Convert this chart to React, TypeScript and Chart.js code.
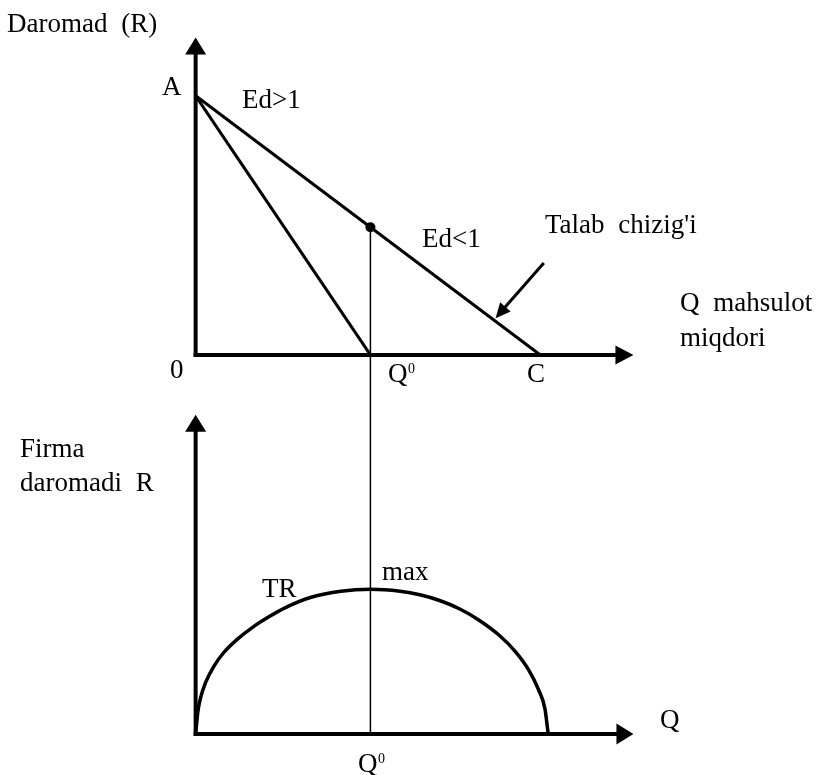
import React, { useEffect, useRef } from "react";
import { Chart, registerables } from "chart.js";

Chart.register(...registerables);

// ---- Data (economic units) ----
// Demand line (Talab chizig'i): from A (Q=0) to C (P=0)
const DEMAND_Q = [0, 10];
const DEMAND_P = [10, 0];
// Marginal revenue line: from A to Q0
const MR_Q = [0, 5.07];
const MR_P = [10, 0];
// Point on the demand line at Q0
const Q0 = 5.07;
const P_AT_Q0 = 4.93;
// Total revenue curve (TR)
const TR_Q = [0, 0.066, 0.143, 0.287, 0.524, 0.811, 1.195, 1.67, 2.1, 2.636, 3.352, 4.212, 5.07, 5.931, 6.504, 7.077, 7.65, 8.223, 8.797, 9.275, 9.656, 9.943, 10.135, 10.209, 10.229];
const TR_VALUES = [0, 3.87, 6.23, 8.86, 11.64, 14.04, 16.3, 18.52, 20.17, 21.93, 23.63, 24.66, 25.0, 24.66, 24.06, 23.07, 21.64, 19.66, 17.1, 14.25, 11.13, 7.71, 4.3, 0.89, 0];
// Axis extents (where the arrows end)
const Q_AXIS_END = 12.7;
const P_AXIS_END = 12.25;
const TR_AXIS_END = 55.2;
// "Talab chizig'i" pointer arrow (from, to) in top-panel units
const POINTER_FROM = [10.1, 3.55];
const POINTER_TO = [8.7, 1.42];

// ---- Texts ----
const TXT_TOP_Y = "Daromad (R)";
const TXT_A = "A";
const TXT_ED_GT = "Ed>1";
const TXT_ED_LT = "Ed<1";
const TXT_DEMAND = "Talab chizig'i";
const TXT_QX_1 = "Q mahsulot";
const TXT_QX_2 = "miqdori";
const TXT_ORIGIN = "0";
const TXT_C = "C";
const TXT_BOT_Y_1 = "Firma";
const TXT_BOT_Y_2 = "daromadi R";
const TXT_TR = "TR";
const TXT_MAX = "max";
const TXT_Q = "Q";

const FONT = '"Liberation Serif", "Times New Roman", serif';

function drawArrow(ctx: CanvasRenderingContext2D, x0: number, y0: number, x1: number, y1: number, headLen: number, headHalf: number, lw: number) {
  const ang = Math.atan2(y1 - y0, x1 - x0);
  const c = Math.cos(ang), s = Math.sin(ang);
  const bx = x1 - headLen * c, by = y1 - headLen * s;
  ctx.save();
  ctx.strokeStyle = "#000";
  ctx.fillStyle = "#000";
  ctx.lineWidth = lw;
  ctx.lineCap = "butt";
  ctx.beginPath();
  ctx.moveTo(x0, y0);
  ctx.lineTo(bx + c, by + s);
  ctx.stroke();
  ctx.beginPath();
  ctx.moveTo(x1, y1);
  ctx.lineTo(bx - headHalf * s, by + headHalf * c);
  ctx.lineTo(bx + headHalf * s, by - headHalf * c);
  ctx.closePath();
  ctx.fill();
  ctx.restore();
}

const diagramPlugin = {
  id: "diagram",
  afterDatasetsDraw(chart: any) {
    const ctx: any = chart.ctx;
    const x = chart.scales.x;
    const yT = chart.scales.yTop;
    const yB = chart.scales.yBot;
    const x0 = x.getPixelForValue(0);

    // top panel axes
    const yT0 = yT.getPixelForValue(0);
    drawArrow(ctx, x0, yT0 + 2, x0, yT.getPixelForValue(P_AXIS_END), 17, 10.5, 4);
    drawArrow(ctx, x0 - 2, yT0, x.getPixelForValue(Q_AXIS_END), yT0, 18, 9.5, 4);
    // bottom panel axes
    const yB0 = yB.getPixelForValue(0);
    drawArrow(ctx, x0, yB0 + 2, x0, yB.getPixelForValue(TR_AXIS_END), 17, 10.5, 4);
    drawArrow(ctx, x0 - 2, yB0, x.getPixelForValue(Q_AXIS_END), yB0, 17, 10.5, 4);

    // vertical Q0 line through both panels
    ctx.save();
    ctx.strokeStyle = "#000";
    ctx.lineWidth = 1.5;
    ctx.beginPath();
    const xq = x.getPixelForValue(Q0);
    ctx.moveTo(xq, yT.getPixelForValue(P_AT_Q0));
    ctx.lineTo(xq, yB0);
    ctx.stroke();
    ctx.restore();

    // pointer arrow to the demand line
    drawArrow(
      ctx,
      x.getPixelForValue(POINTER_FROM[0]), yT.getPixelForValue(POINTER_FROM[1]),
      x.getPixelForValue(POINTER_TO[0]), yT.getPixelForValue(POINTER_TO[1]),
      15, 7, 3
    );

    // texts
    ctx.save();
    ctx.fillStyle = "#000";
    ctx.textAlign = "left";
    ctx.textBaseline = "alphabetic";
    ctx.font = `27px ${FONT}`;
    ctx.wordSpacing = "7px";
    const t = (s: string, px: number, py: number) => ctx.fillText(s, px, py);
    t(TXT_TOP_Y, 7, 32);
    t(TXT_A, 162, 95);
    t(TXT_ED_GT, 242, 108);
    t(TXT_ED_LT, 422, 247);
    t(TXT_DEMAND, 545, 233);
    t(TXT_QX_1, 680, 311);
    t(TXT_QX_2, 680, 346);
    t(TXT_ORIGIN, 170, 378);
    t(TXT_C, 527, 382);
    t(TXT_BOT_Y_1, 20, 457);
    t(TXT_BOT_Y_2, 20, 491);
    t(TXT_TR, 262, 597);
    t(TXT_MAX, 382, 580);
    t(TXT_Q, 660, 728);
    const qSup = (px: number, py: number) => {
      ctx.font = `27px ${FONT}`;
      ctx.fillText(TXT_Q, px, py);
      const w = ctx.measureText(TXT_Q).width;
      ctx.font = `14px ${FONT}`;
      ctx.fillText(TXT_ORIGIN, px + w + 0.5, py - 9);
    };
    qSup(388, 382);
    qSup(358, 772);
    ctx.restore();
  },
};

export default function App() {
  const ref = useRef<HTMLCanvasElement | null>(null);
  useEffect(() => {
    if (!ref.current) return;
    const line = (qs: number[], vs: number[], axis: string, width: number, extra: any = {}) => ({
      data: qs.map((q, i) => ({ x: q, y: vs[i] })),
      yAxisID: axis,
      showLine: true,
      borderColor: "#000",
      backgroundColor: "#000",
      borderWidth: width,
      pointRadius: 0,
      fill: false,
      ...extra,
    });
    const chart = new Chart(ref.current, {
      type: "scatter",
      data: {
        datasets: [
          line(DEMAND_Q, DEMAND_P, "yTop", 3),
          line(MR_Q, MR_P, "yTop", 3),
          line(TR_Q, TR_VALUES, "yBot", 3.5, { cubicInterpolationMode: "monotone" }),
          {
            data: [{ x: Q0, y: P_AT_Q0 }],
            yAxisID: "yTop",
            showLine: false,
            pointRadius: 5,
            pointBackgroundColor: "#000",
            pointBorderColor: "#000",
            pointBorderWidth: 0,
          },
        ],
      },
      options: {
        responsive: false,
        maintainAspectRatio: false,
        animation: false,
        devicePixelRatio: 1,
        layout: { padding: 0 },
        plugins: { legend: { display: false }, tooltip: { enabled: false }, title: { display: false } },
        events: [],
        scales: {
          x: { type: "linear", display: false, min: -5.53, max: 17.851 },
          yTop: { type: "linear", display: false, position: "left", min: -16.019, max: 13.505 },
          yBot: { type: "linear", display: false, position: "left", min: -6.23, max: 126.02 },
        },
      },
      plugins: [diagramPlugin],
    } as any);
    return () => chart.destroy();
  }, []);
  return (
    <div style={{ position: "fixed", left: 0, top: 0, width: 816, height: 775, background: "#fff" }}>
      <canvas ref={ref} width={816} height={775} style={{ display: "block", width: 816, height: 775 }} />
    </div>
  );
}
